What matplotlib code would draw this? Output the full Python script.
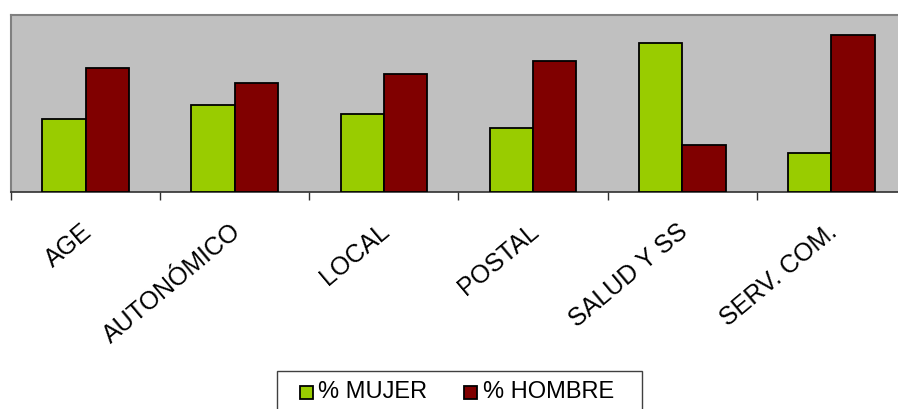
import matplotlib
matplotlib.use("Agg")
import matplotlib.pyplot as plt
import matplotlib.transforms as mtransforms
import numpy as np
from matplotlib.patches import Rectangle

categories = ["AGE", "AUTONÓMICO", "LOCAL", "POSTAL", "SALUD Y SS", "SERV. COM."]
mujer = [37.4, 44.4, 39.5, 32.8, 75.9, 19.5]
hombre = [63.1, 55.4, 60.3, 66.7, 23.6, 80.5]
series_names = ["% MUJER", "% HOMBRE"]
colors = ['#99CC00', '#800000']

plt.rcParams['font.family'] = ['Liberation Sans', 'DejaVu Sans']

W, H = 898, 409
fig = plt.figure(figsize=(W/100, H/100), dpi=100)
ax = fig.add_axes([11/W, 1 - 191.5/H, (906-11)/W, (191.5-15)/H])
ax.set_facecolor('#C0C0C0')

x = np.arange(len(categories))
w = 0.29
ax.bar(x - w/2, mujer, width=w, color=colors[0], edgecolor='black', linewidth=1.3, zorder=3)
ax.bar(x + w/2, hombre, width=w, color=colors[1], edgecolor='black', linewidth=1.3, zorder=3)

ax.set_xlim(-0.5, len(categories) - 0.5)
ax.set_ylim(0, 90.5)
ax.set_yticks([])

for s in ['left', 'top', 'right']:
    ax.spines[s].set_color('#808080')
    ax.spines[s].set_linewidth(1.5)
ax.spines['bottom'].set_color('#303030')
ax.spines['bottom'].set_linewidth(1.2)

ax.set_xticks(x)
ax.set_xticklabels(categories, rotation=40, ha='right', rotation_mode='anchor', fontsize=18)
ax.tick_params(axis='x', which='major', length=0, pad=20)
offset = mtransforms.ScaledTranslation(-5/100, 0, fig.dpi_scale_trans)
for lbl in ax.get_xticklabels():
    lbl.set_transform(lbl.get_transform() + offset)
ax.set_xticks(np.arange(-0.5, len(categories), 1.0), minor=True)
ax.tick_params(axis='x', which='minor', length=6, width=1, color='#303030', direction='out')

# Legend (drawn in figure pixel coordinates)
def fx(px):
    return px / W

def fy(py):
    return 1 - py / H

frame = Rectangle((fx(277), fy(420)), fx(642) - fx(277), fy(371) - fy(420),
                  transform=fig.transFigure, facecolor='white', edgecolor='#404040',
                  linewidth=1.0, clip_on=False)
fig.add_artist(frame)
marker_x = [300, 464]
text_x = [318, 483]
for mx, tx, c, name in zip(marker_x, text_x, colors, series_names):
    fig.add_artist(Rectangle((fx(mx), fy(398.5)), fx(13), 13 / H, transform=fig.transFigure,
                             facecolor=c, edgecolor='black', linewidth=1.3))
    fig.text(fx(tx), fy(392), name, fontsize=17, va='center', ha='left')

fig.savefig('out.png', dpi=100)
